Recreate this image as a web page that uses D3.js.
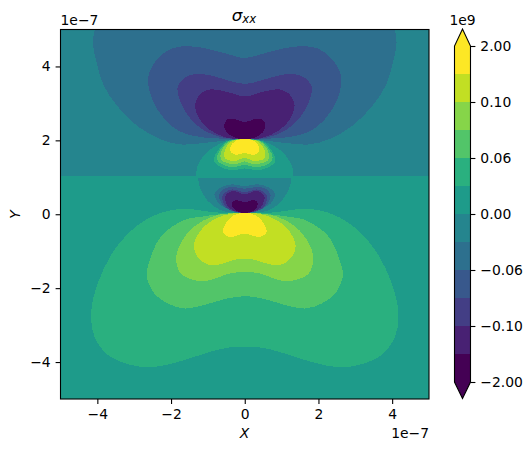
<!DOCTYPE html>
<html><head><meta charset="utf-8">
<script src="https://cdn.jsdelivr.net/npm/d3@7"></script>
<style>
html,body{margin:0;padding:0;background:#fff}
svg{display:block}
text{font-family:"DejaVu Sans",sans-serif;font-size:13.9px;fill:#000}
.tick text{font-family:"DejaVu Sans",sans-serif;font-size:13.9px;fill:#000}
</style></head><body>
<script>
// Tick values (units of 1e-7 m)
const xTicks=[-4,-2,0,2,4];
const yTicks=[-4,-2,0,2,4];
// Filled-contour levels (units of 1e9)
const levels=[-2,-0.12,-0.10,-0.08,-0.06,-0.03,0,0.03,0.06,0.08,0.10,0.12,2];
const levelTicks=[-2,-0.10,-0.06,0,0.06,0.10,2];
// Half outlines (x<=0) of contour regions, in units of 1e-7
const upperBand4=[[0,2.03],[-0.3,2.02],[-1.1,1.93],[-1.75,1.89],[-2.29,2.03],[-2.92,2.39],[-3.46,2.93],[-3.82,3.47],[-4.04,4.19],[-4.12,4.64],[-4.07,5.0],[-3.95,5.4],[0,5.6]];
const upperBand3=[[0,4.23],[-0.48,4.34],[-1.02,4.48],[-1.56,4.55],[-2.0,4.48],[-2.37,4.2],[-2.6,3.8],[-2.62,3.53],[-2.5,3.08],[-2.19,2.59],[-1.74,2.23],[-1.2,2.09],[-0.48,2.04],[0,2.03]];
const upperBand2=[[0,3.53],[-0.75,3.71],[-1.2,3.8],[-1.6,3.71],[-1.82,3.44],[-1.74,3.04],[-1.51,2.63],[-1.11,2.27],[-0.57,2.07],[0,2.03]];
const upperBand1=[[0,3.19],[-0.48,3.31],[-0.93,3.38],[-1.2,3.26],[-1.35,2.95],[-1.24,2.59],[-0.93,2.27],[-0.48,2.07],[0,2.03]];
const upperBand0=[[0,2.5],[-0.34,2.59],[-0.48,2.56],[-0.56,2.41],[-0.5,2.23],[-0.25,2.07],[0,2.03]];
const domeBand6=[[0,2.03],[-0.48,1.98],[-0.84,1.82],[-1.11,1.59],[-1.29,1.28],[-1.32,1.03],[-1.32,0.9],[0,0.9]];
const domeBand7=[[0,2.03],[-0.48,1.98],[-0.66,1.82],[-0.82,1.55],[-0.82,1.41],[-0.66,1.28],[-0.35,1.19],[0,1.24]];
const domeBand8=[[0,2.03],[-0.43,1.98],[-0.61,1.82],[-0.75,1.58],[-0.73,1.44],[-0.57,1.33],[-0.3,1.27],[0,1.34]];
const domeBand9=[[0,2.03],[-0.39,1.98],[-0.57,1.82],[-0.66,1.59],[-0.63,1.46],[-0.48,1.39],[-0.25,1.35],[0,1.43]];
const domeBand10=[[0,2.03],[-0.34,1.98],[-0.5,1.82],[-0.56,1.6],[-0.52,1.5],[-0.38,1.45],[-0.22,1.45],[0,1.53]];
const domeBand11=[[0,2.03],[-0.25,1.99],[-0.39,1.82],[-0.37,1.68],[-0.25,1.61],[-0.12,1.63],[0,1.66]];
const lowerDome5=[[0,0.99],[-0.6,0.99],[-1.15,0.99],[-1.25,0.98],[-1.22,0.74],[-1.02,0.38],[-0.66,0.11],[0,0.04]];
const lowerDome4=[[0,0.76],[-0.34,0.81],[-0.62,0.74],[-0.82,0.56],[-0.7,0.29],[-0.3,0.09],[0,0.04]];
const lowerDome3=[[0,0.69],[-0.34,0.74],[-0.58,0.68],[-0.7,0.53],[-0.57,0.22],[-0.25,0.06],[0,0.04]];
const lowerDome2=[[0,0.6],[-0.34,0.67],[-0.52,0.6],[-0.61,0.48],[-0.5,0.18],[-0.2,0.06],[0,0.04]];
const lowerDome1=[[0,0.54],[-0.3,0.63],[-0.47,0.57],[-0.54,0.45],[-0.42,0.17],[-0.16,0.05],[0,0.04]];
const lowerDome0=[[0,0.32],[-0.2,0.38],[-0.32,0.35],[-0.35,0.27],[-0.3,0.15],[-0.16,0.06],[0,0.04]];
const lowerBand7=[[0,0.04],[-0.66,0.04],[-1.11,0.09],[-1.65,0.15],[-2.28,0.04],[-2.91,-0.3],[-3.54,-0.97],[-3.99,-1.87],[-4.17,-2.68],[-4.08,-3.31],[-3.72,-3.8],[-3.09,-4.08],[-2.46,-4.13],[-1.65,-3.95],[-0.93,-3.72],[-0.39,-3.6],[0,-3.59]];
const lowerBand8=[[0,0.04],[-0.66,0],[-1.2,-0.07],[-1.65,-0.16],[-2.28,-0.61],[-2.63,-1.42],[-2.66,-1.69],[-2.46,-2.14],[-2.1,-2.41],[-1.65,-2.55],[-1.11,-2.46],[-0.48,-2.28],[0,-2.22]];
const lowerBand9=[[0,0.04],[-0.84,-0.05],[-1.38,-0.34],[-1.74,-0.79],[-1.86,-1.2],[-1.74,-1.6],[-1.38,-1.78],[-1.02,-1.8],[-0.39,-1.6],[0,-1.56]];
const lowerBand10=[[0,0.04],[-0.57,-0.03],[-1.11,-0.34],[-1.38,-0.84],[-1.24,-1.2],[-0.93,-1.38],[-0.66,-1.35],[-0.21,-1.22],[0,-1.21]];
const lowerBand11=[[0,0.04],[-0.3,-0.03],[-0.52,-0.25],[-0.59,-0.48],[-0.43,-0.61],[-0.21,-0.58],[0,-0.52]];

const regions=[
 [4,upperBand4],[3,upperBand3],[2,upperBand2],[1,upperBand1],[0,upperBand0],
 [6,domeBand6],[7,domeBand7],[8,domeBand8],[9,domeBand9],[10,domeBand10],[11,domeBand11],
 [5,lowerDome5],[4,lowerDome4],[3,lowerDome3],[2,lowerDome2],[1,lowerDome1],[0,lowerDome0],
 [7,lowerBand7],[8,lowerBand8],[9,lowerBand9],[10,lowerBand10],[11,lowerBand11]
];

const W=532,H=452;
const x=d3.scaleLinear().domain([-5,5]).range([60.5,429]);
const y=d3.scaleLinear().domain([-5,5]).range([399,29.5]);
const bandColor=d3.scaleSequential(d3.interpolateViridis).domain([0,11]);
const svg=d3.select("body").append("svg").attr("width",W).attr("height",H);
svg.append("defs").append("clipPath").attr("id","plot").append("rect")
  .attr("x",x(-5)).attr("y",y(5)).attr("width",x(5)-x(-5)).attr("height",y(-5)-y(5));
const plot=svg.append("g").attr("clip-path","url(#plot)").attr("shape-rendering","crispEdges");
// background bands either side of the y = 1.03 interface
plot.append("rect").attr("x",x(-5)).attr("width",x(5)-x(-5)).attr("y",y(5)).attr("height",y(1.03)-y(5)).attr("fill",bandColor(5));
plot.append("rect").attr("x",x(-5)).attr("width",x(5)-x(-5)).attr("y",y(1.03)).attr("height",y(-5)-y(1.03)).attr("fill",bandColor(6));
const line=d3.line().x(d=>x(d[0])).y(d=>y(d[1])).curve(d3.curveCatmullRomClosed.alpha(0.5));
const mirror=h=>{
  const r=h.filter(p=>p[0]!==0).map(p=>[-p[0],p[1]]).reverse();
  return h.concat(r);
};
plot.selectAll("path.region").data(regions).join("path").attr("class","region")
  .attr("d",d=>line(mirror(d[1]))).attr("fill",d=>bandColor(d[0]));
// frame
svg.append("rect").attr("x",x(-5)).attr("y",y(5)).attr("width",x(5)-x(-5)).attr("height",y(-5)-y(5))
  .attr("fill","none").attr("stroke","#000").attr("stroke-width",1.1);
const styleAxis=g=>{g.select(".domain").remove();
  g.selectAll(".tick line").attr("stroke","#000").attr("stroke-width",1.1);};
const minus=v=>String(v).replace("-","\u2212");
svg.append("g").attr("transform",`translate(0,${y(-5)})`)
  .call(d3.axisBottom(x).tickValues(xTicks).tickFormat(minus).tickSize(4.9).tickPadding(4.9)).call(styleAxis);
svg.append("g").attr("transform",`translate(${x(-5)},0)`)
  .call(d3.axisLeft(y).tickValues(yTicks).tickFormat(minus).tickSize(4.9).tickPadding(4.9)).call(styleAxis);
// title and labels
const title=svg.append("text").attr("x",244).attr("y",21).attr("text-anchor","middle").style("font-size","16.7px");
title.append("tspan").attr("font-style","italic").text("σ");
title.append("tspan").attr("font-style","italic").attr("dy",2).style("font-size","11.7px").text("xx");
svg.append("text").attr("x",244.5).attr("y",438).attr("text-anchor","middle").attr("font-style","italic").text("X");
svg.append("text").attr("transform","translate(20,214.5) rotate(-90)").attr("text-anchor","middle").attr("font-style","italic").text("Y");
svg.append("text").attr("x",60.5).attr("y",25).text("1e\u22127");
svg.append("text").attr("x",429).attr("y",438).attr("text-anchor","end").text("1e\u22127");
// colour bar
const cb=d3.scalePoint().domain(levels).range([382,46]);
const cbL=454.5,cbR=470.5,cbM=(cbL+cbR)/2;
const bar=svg.append("g").attr("shape-rendering","crispEdges");
bar.selectAll("rect").data(levels.slice(0,-1)).join("rect")
  .attr("x",cbL).attr("width",cbR-cbL)
  .attr("y",(d,i)=>cb(levels[i+1])).attr("height",(d,i)=>cb(d)-cb(levels[i+1]))
  .attr("fill",(d,i)=>bandColor(i));
const tri=d3.line();
svg.append("path").attr("d",tri([[cbL,cb(2)],[cbM,29],[cbR,cb(2)]])+"Z").attr("fill",bandColor(11));
svg.append("path").attr("d",tri([[cbL,cb(-2)],[cbM,398.5],[cbR,cb(-2)]])+"Z").attr("fill",bandColor(0));
svg.append("path").attr("d",tri([[cbL,cb(-2)],[cbL,cb(2)],[cbM,29],[cbR,cb(2)],[cbR,cb(-2)],[cbM,398.5]])+"Z")
  .attr("fill","none").attr("stroke","#000").attr("stroke-width",1.1);
svg.append("g").attr("transform",`translate(${cbR},0)`)
  .call(d3.axisRight(cb).tickValues(levelTicks).tickFormat(d3.format(".2f")).tickSize(4.9).tickPadding(4.9)).call(styleAxis);
svg.append("text").attr("x",cbM).attr("y",25).attr("text-anchor","middle").text("1e9");
</script>
</body></html>
